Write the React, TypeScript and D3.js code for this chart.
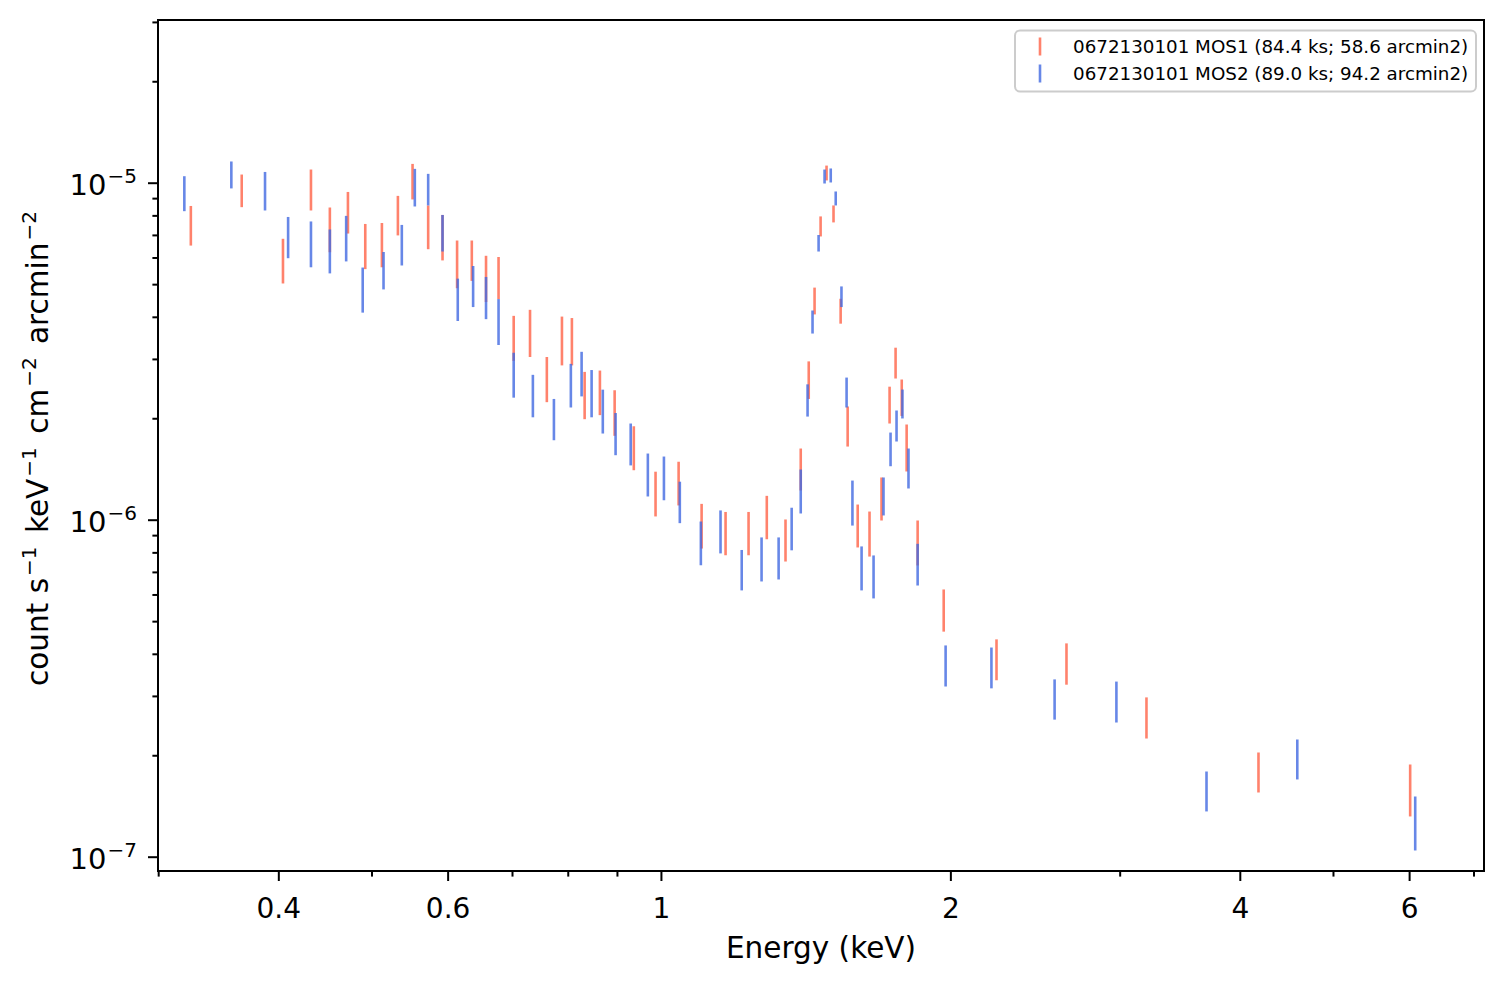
import * as d3 from "d3";

// MOS1 (red) and MOS2 (blue) spectra: energy (keV) and error bar limits
const mos1Energy = [
  0.324, 0.366, 0.404, 0.432, 0.452, 0.472, 0.492, 0.512, 0.532, 0.551, 0.572, 0.592, 0.613, 0.635,
  0.657, 0.677, 0.702, 0.73, 0.76, 0.788, 0.807, 0.832, 0.863, 0.894, 0.936, 0.986, 1.042, 1.101,
  1.166, 1.232, 1.287, 1.346, 1.396, 1.423, 1.443, 1.464, 1.485, 1.51, 1.536, 1.562, 1.6, 1.646,
  1.694, 1.727, 1.752, 1.778, 1.799, 1.847, 1.966, 2.231, 2.638, 3.195, 4.178, 6.008,
];
const mos1High = [
  8.56e-6, 10.61e-6, 6.84e-6, 10.98e-6, 8.47e-6, 9.42e-6, 7.57e-6, 7.62e-6, 9.17e-6, 11.41e-6,
  8.59e-6, 8.05e-6, 6.76e-6, 6.76e-6, 6.09e-6, 6.04e-6, 4.04e-6, 4.21e-6, 3.05e-6, 4.02e-6,
  3.98e-6, 2.755e-6, 2.78e-6, 2.43e-6, 1.9e-6, 1.393e-6, 1.491e-6, 1.118e-6, 1.058e-6, 1.058e-6,
  1.181e-6, 1.005e-6, 1.632e-6, 2.96e-6, 4.9e-6, 7.97e-6, 11.28e-6, 8.59e-6, 4.54e-6, 2.175e-6,
  1.113e-6, 1.061e-6, 1.339e-6, 2.49e-6, 3.25e-6, 2.615e-6, 1.923e-6, 0.998e-6, 0.623e-6,
  0.443e-6, 0.431e-6, 0.298e-6, 0.2045e-6, 0.1884e-6,
];
const mos1Low = [
  6.53e-6, 8.49e-6, 5.04e-6, 8.3e-6, 6.24e-6, 7.09e-6, 5.56e-6, 5.63e-6, 7.0e-6, 8.95e-6, 6.37e-6,
  5.9e-6, 4.88e-6, 5.13e-6, 4.44e-6, 4.53e-6, 2.97e-6, 3.05e-6, 2.24e-6, 2.88e-6, 2.88e-6,
  1.994e-6, 2.05e-6, 1.78e-6, 1.407e-6, 1.026e-6, 1.106e-6, 0.824e-6, 0.787e-6, 0.787e-6,
  0.878e-6, 0.754e-6, 1.225e-6, 2.29e-6, 4.08e-6, 6.95e-6, 10.19e-6, 7.65e-6, 3.83e-6, 1.654e-6,
  0.83e-6, 0.78e-6, 0.998e-6, 1.936e-6, 2.633e-6, 2.039e-6, 1.395e-6, 0.734e-6, 0.467e-6,
  0.335e-6, 0.325e-6, 0.225e-6, 0.1556e-6, 0.1321e-6,
];

const mos2Energy = [
  0.319, 0.357, 0.387, 0.409, 0.432, 0.452, 0.47, 0.489, 0.514, 0.537, 0.554, 0.572, 0.592, 0.614,
  0.637, 0.657, 0.677, 0.702, 0.735, 0.773, 0.805, 0.826, 0.846, 0.869, 0.896, 0.929, 0.968, 1.006,
  1.045, 1.099, 1.152, 1.212, 1.271, 1.324, 1.366, 1.396, 1.419, 1.436, 1.457, 1.478, 1.5, 1.518,
  1.539, 1.558, 1.58, 1.615, 1.662, 1.702, 1.731, 1.756, 1.781, 1.807, 1.847, 1.975, 2.204, 2.564,
  2.973, 3.689, 4.585, 6.081,
];
const mos2High = [
  10.49e-6, 11.6e-6, 10.8e-6, 7.94e-6, 7.7e-6, 7.29e-6, 8.0e-6, 5.62e-6, 6.25e-6, 7.52e-6,
  11.03e-6, 10.66e-6, 8.05e-6, 5.21e-6, 5.68e-6, 5.27e-6, 4.53e-6, 3.14e-6, 2.7e-6, 2.29e-6,
  2.91e-6, 3.16e-6, 2.79e-6, 2.44e-6, 2.08e-6, 1.936e-6, 1.577e-6, 1.545e-6, 1.301e-6, 0.991e-6,
  1.069e-6, 0.816e-6, 0.889e-6, 0.889e-6, 1.089e-6, 1.414e-6, 2.53e-6, 4.19e-6, 7.02e-6,
  10.98e-6, 11.06e-6, 9.45e-6, 4.94e-6, 2.65e-6, 1.311e-6, 0.836e-6, 0.786e-6, 1.339e-6,
  1.82e-6, 2.116e-6, 2.442e-6, 1.632e-6, 0.851e-6, 0.425e-6, 0.419e-6, 0.337e-6, 0.332e-6,
  0.1796e-6, 0.2235e-6, 0.1514e-6,
];
const mos2Low = [
  8.26e-6, 9.65e-6, 8.3e-6, 5.99e-6, 5.63e-6, 5.4e-6, 5.86e-6, 4.13e-6, 4.84e-6, 5.7e-6, 8.53e-6,
  8.59e-6, 6.27e-6, 3.9e-6, 4.29e-6, 3.95e-6, 3.31e-6, 2.31e-6, 2.02e-6, 1.727e-6, 2.16e-6,
  2.33e-6, 2.02e-6, 1.808e-6, 1.559e-6, 1.454e-6, 1.176e-6, 1.146e-6, 0.98e-6, 0.735e-6,
  0.797e-6, 0.619e-6, 0.658e-6, 0.667e-6, 0.814e-6, 1.047e-6, 2.03e-6, 3.58e-6, 6.27e-6, 9.98e-6,
  10.05e-6, 8.59e-6, 4.29e-6, 2.16e-6, 0.964e-6, 0.619e-6, 0.586e-6, 1.033e-6, 1.446e-6,
  1.712e-6, 2.004e-6, 1.242e-6, 0.64e-6, 0.321e-6, 0.317e-6, 0.256e-6, 0.251e-6, 0.1367e-6,
  0.1701e-6, 0.1047e-6,
];

const seriesLabels = [
  "0672130101 MOS1 (84.4 ks; 58.6 arcmin2)",
  "0672130101 MOS2 (89.0 ks; 94.2 arcmin2)",
];
const seriesColors = ["tomato", "royalblue"];

const xLabeledTicks = [0.4, 0.6, 1, 2, 4, 6];
const xMinorTicks = [0.3, 0.5, 0.7, 0.8, 0.9, 3, 5, 7];
const yMajorExponents = [-7, -6, -5];

const width = 1507;
const height = 986;
const margin = { top: 20, right: 23, bottom: 115, left: 158 };
const font = "DejaVu Sans, sans-serif";

export default function App() {
  const x = d3
    .scaleLog()
    .domain([0.2995, 7.17])
    .range([margin.left, width - margin.right]);
  const y = d3
    .scaleLog()
    .domain([9.1e-8, 3.05e-5])
    .range([height - margin.bottom, margin.top]);

  const [y0, y1] = y.domain();
  const yMinor: number[] = [];
  for (const e of [-8, ...yMajorExponents]) {
    for (let m = 2; m <= 9; m++) {
      const v = m * Math.pow(10, e);
      if (v >= y0 && v <= y1) yMinor.push(v);
    }
  }

  const series = [
    { energy: mos1Energy, low: mos1Low, high: mos1High },
    { energy: mos2Energy, low: mos2Low, high: mos2High },
  ];

  const bottom = height - margin.bottom;
  // superscript inside the rotated y label, with a little mathtext-like spacing
  const sup = (s: string, last = false) => (
    <>
      <tspan dx={2} dy={-12} fontSize={20}>
        {s}
      </tspan>
      {!last && (
        <tspan dx={4} dy={12}>
          {" "}
        </tspan>
      )}
    </>
  );

  return (
    <svg
      width={width}
      height={height}
      style={{ position: "absolute", left: 0, top: 0, background: "white" }}
      fontFamily={font}
    >
      {/* error bars */}
      {series.map((s, si) => (
        <g key={si} stroke={seriesColors[si]} strokeOpacity={0.8} strokeWidth={2.6}>
          {s.energy.map((e, i) => (
            <line key={i} x1={x(e)} x2={x(e)} y1={y(s.high[i])} y2={y(s.low[i])} />
          ))}
        </g>
      ))}

      {/* frame */}
      <rect
        x={margin.left}
        y={margin.top}
        width={width - margin.left - margin.right}
        height={bottom - margin.top}
        fill="none"
        stroke="black"
        strokeWidth={2}
      />

      {/* x ticks */}
      <g stroke="black" strokeWidth={2}>
        {xLabeledTicks.map((t) => (
          <line key={t} x1={x(t)} x2={x(t)} y1={bottom} y2={bottom + 10} />
        ))}
        {xMinorTicks.map((t) => (
          <line key={t} x1={x(t)} x2={x(t)} y1={bottom} y2={bottom + 5.6} />
        ))}
      </g>
      {xLabeledTicks.map((t) => (
        <text key={t} x={x(t)} y={917.5} textAnchor="middle" fontSize={28}>
          {String(t)}
        </text>
      ))}
      <text x={(margin.left + width - margin.right) / 2} y={958} textAnchor="middle" fontSize={29.5}>
        Energy (keV)
      </text>

      {/* y ticks */}
      <g stroke="black" strokeWidth={2}>
        {yMajorExponents.map((e) => (
          <line
            key={e}
            x1={margin.left - 10}
            x2={margin.left}
            y1={y(Math.pow(10, e))}
            y2={y(Math.pow(10, e))}
          />
        ))}
        {yMinor.map((v, i) => (
          <line key={i} x1={margin.left - 5.6} x2={margin.left} y1={y(v)} y2={y(v)} />
        ))}
      </g>
      {yMajorExponents.map((e) => (
        <text key={e} x={137} y={y(Math.pow(10, e)) + 11.5} textAnchor="end" fontSize={29}>
          10
          <tspan dx={1} dy={-12} fontSize={20}>
            {"\u2212" + Math.abs(e)}
          </tspan>
        </text>
      ))}
      <text
        transform={`translate(48,${(margin.top + bottom) / 2 + 3}) rotate(-90)`}
        textAnchor="middle"
        fontSize={29.5}
      >
        count s{sup("\u22121")}keV{sup("\u22121")}cm{sup("\u22122")}arcmin{sup("\u22122", true)}
      </text>

      {/* legend */}
      <g>
        <rect
          x={1015}
          y={30.5}
          width={461}
          height={61}
          rx={5}
          fill="white"
          fillOpacity={0.8}
          stroke="#cccccc"
          strokeWidth={2}
        />
        {seriesLabels.map((label, i) => (
          <g key={label}>
            <line
              x1={1040}
              x2={1040}
              y1={37.5 + i * 27}
              y2={55.5 + i * 27}
              stroke={seriesColors[i]}
              strokeOpacity={0.8}
              strokeWidth={2.6}
            />
            <text x={1073} y={53.3 + i * 26.8} fontSize={18.3}>
              {label}
            </text>
          </g>
        ))}
      </g>
    </svg>
  );
}
